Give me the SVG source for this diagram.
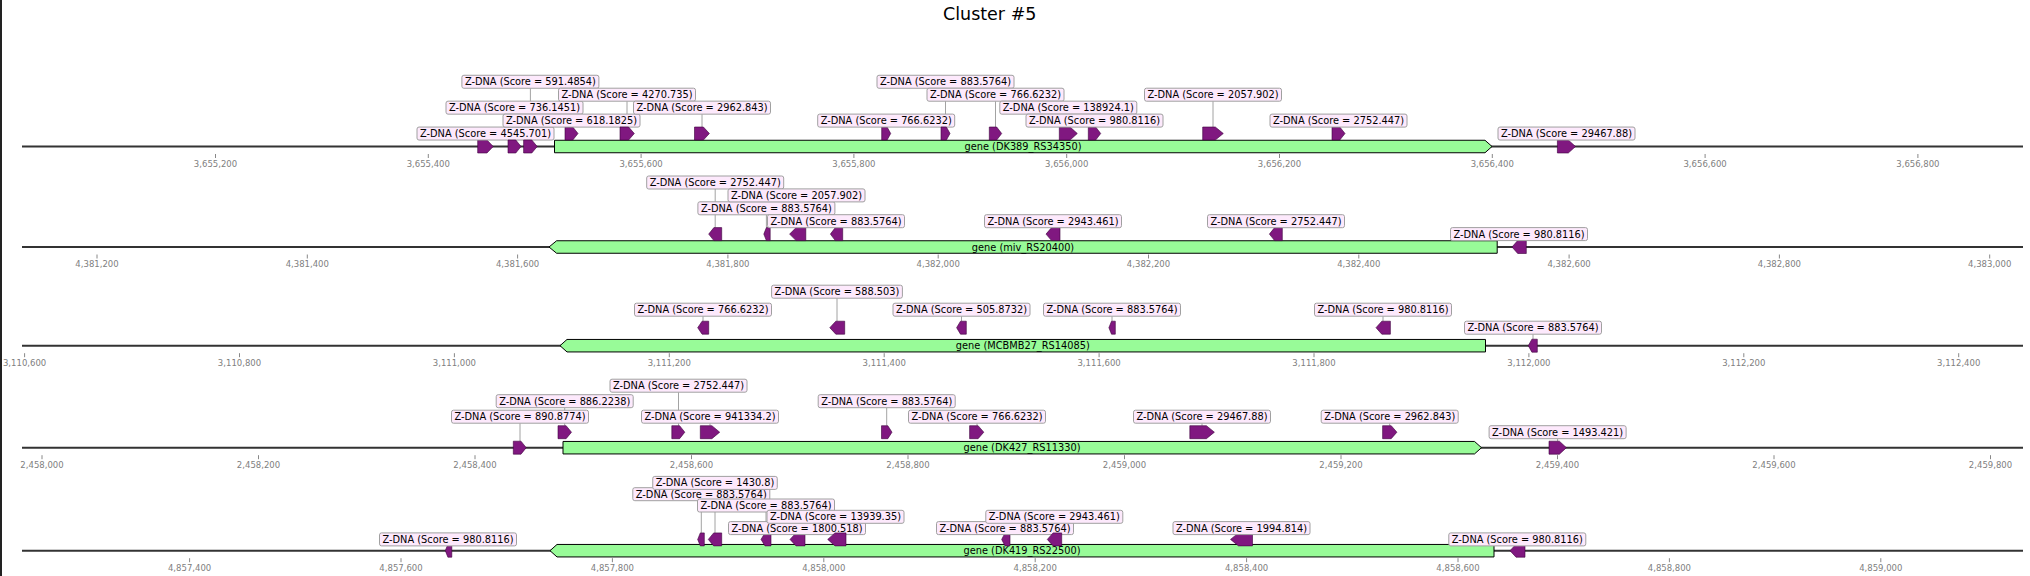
<svg xmlns="http://www.w3.org/2000/svg" width="2030" height="576" viewBox="0 0 2030 576">
<style>
.bg{fill:#ffffff}
.ax{stroke:#333;stroke-width:2}
.tk{stroke:#888;stroke-width:1}
.tl{font-family:"DejaVu Sans",sans-serif;font-size:8.5px;fill:#808080;text-anchor:middle}
.gene{fill:#98fb98;stroke:#000;stroke-width:1}
.gl{font-family:"DejaVu Sans",sans-serif;font-size:9.8px;fill:#000;text-anchor:middle}
.f{fill:#801880;stroke:#3d003d;stroke-width:0.6}
.lb{fill:#fde9fc;stroke:#a0a0a0;stroke-width:1}
.lt{font-family:"DejaVu Sans",sans-serif;font-size:9.8px;fill:#000;text-anchor:middle}
.cn{stroke:#8c8c8c;stroke-width:0.8}
.title{font-family:"DejaVu Sans",sans-serif;font-size:17.5px;fill:#000;text-anchor:middle}
</style>
<rect class="bg" x="0" y="0" width="2030" height="576"/>
<rect x="0" y="0" width="2" height="576" fill="#222"/>
<text class="title" x="989.7" y="19.5">Cluster #5</text>

<g id="axes">
<line class="ax" x1="22" y1="146.5" x2="2023" y2="146.5"/>
<line class="ax" x1="22" y1="247" x2="2023" y2="247"/>
<line class="ax" x1="22" y1="345.7" x2="2023" y2="345.7"/>
<line class="ax" x1="22" y1="447.7" x2="2023" y2="447.7"/>
<line class="ax" x1="22" y1="550.7" x2="2023" y2="550.7"/>
</g>

<g id="ticks">
<g class="tk">
<line x1="215.5" y1="154" x2="215.5" y2="158"/><line x1="428.3" y1="154" x2="428.3" y2="158"/><line x1="641.1" y1="154" x2="641.1" y2="158"/><line x1="853.9" y1="154" x2="853.9" y2="158"/><line x1="1066.7" y1="154" x2="1066.7" y2="158"/><line x1="1279.5" y1="154" x2="1279.5" y2="158"/><line x1="1492.3" y1="154" x2="1492.3" y2="158"/><line x1="1705.1" y1="154" x2="1705.1" y2="158"/><line x1="1917.9" y1="154" x2="1917.9" y2="158"/>
<line x1="97" y1="254.5" x2="97" y2="258.5"/><line x1="307.3" y1="254.5" x2="307.3" y2="258.5"/><line x1="517.6" y1="254.5" x2="517.6" y2="258.5"/><line x1="727.9" y1="254.5" x2="727.9" y2="258.5"/><line x1="938.2" y1="254.5" x2="938.2" y2="258.5"/><line x1="1148.5" y1="254.5" x2="1148.5" y2="258.5"/><line x1="1358.8" y1="254.5" x2="1358.8" y2="258.5"/><line x1="1569.1" y1="254.5" x2="1569.1" y2="258.5"/><line x1="1779.4" y1="254.5" x2="1779.4" y2="258.5"/><line x1="1989.7" y1="254.5" x2="1989.7" y2="258.5"/>
<line x1="24.6" y1="353.2" x2="24.6" y2="357.2"/><line x1="239.5" y1="353.2" x2="239.5" y2="357.2"/><line x1="454.4" y1="353.2" x2="454.4" y2="357.2"/><line x1="669.3" y1="353.2" x2="669.3" y2="357.2"/><line x1="884.2" y1="353.2" x2="884.2" y2="357.2"/><line x1="1099.1" y1="353.2" x2="1099.1" y2="357.2"/><line x1="1314" y1="353.2" x2="1314" y2="357.2"/><line x1="1528.9" y1="353.2" x2="1528.9" y2="357.2"/><line x1="1743.8" y1="353.2" x2="1743.8" y2="357.2"/><line x1="1958.7" y1="353.2" x2="1958.7" y2="357.2"/>
<line x1="42" y1="455.2" x2="42" y2="459.2"/><line x1="258.5" y1="455.2" x2="258.5" y2="459.2"/><line x1="475" y1="455.2" x2="475" y2="459.2"/><line x1="691.5" y1="455.2" x2="691.5" y2="459.2"/><line x1="908" y1="455.2" x2="908" y2="459.2"/><line x1="1124.5" y1="455.2" x2="1124.5" y2="459.2"/><line x1="1341" y1="455.2" x2="1341" y2="459.2"/><line x1="1557.5" y1="455.2" x2="1557.5" y2="459.2"/><line x1="1774" y1="455.2" x2="1774" y2="459.2"/><line x1="1990.5" y1="455.2" x2="1990.5" y2="459.2"/>
<line x1="189.6" y1="558.2" x2="189.6" y2="562.2"/><line x1="401" y1="558.2" x2="401" y2="562.2"/><line x1="612.4" y1="558.2" x2="612.4" y2="562.2"/><line x1="823.8" y1="558.2" x2="823.8" y2="562.2"/><line x1="1035.2" y1="558.2" x2="1035.2" y2="562.2"/><line x1="1246.6" y1="558.2" x2="1246.6" y2="562.2"/><line x1="1458" y1="558.2" x2="1458" y2="562.2"/><line x1="1669.4" y1="558.2" x2="1669.4" y2="562.2"/><line x1="1880.8" y1="558.2" x2="1880.8" y2="562.2"/>
</g>
<g class="tl">
<text x="215.5" y="166.5">3,655,200</text><text x="428.3" y="166.5">3,655,400</text><text x="641.1" y="166.5">3,655,600</text><text x="853.9" y="166.5">3,655,800</text><text x="1066.7" y="166.5">3,656,000</text><text x="1279.5" y="166.5">3,656,200</text><text x="1492.3" y="166.5">3,656,400</text><text x="1705.1" y="166.5">3,656,600</text><text x="1917.9" y="166.5">3,656,800</text>
<text x="97" y="267">4,381,200</text><text x="307.3" y="267">4,381,400</text><text x="517.6" y="267">4,381,600</text><text x="727.9" y="267">4,381,800</text><text x="938.2" y="267">4,382,000</text><text x="1148.5" y="267">4,382,200</text><text x="1358.8" y="267">4,382,400</text><text x="1569.1" y="267">4,382,600</text><text x="1779.4" y="267">4,382,800</text><text x="1989.7" y="267">4,383,000</text>
<text x="24.6" y="365.7">3,110,600</text><text x="239.5" y="365.7">3,110,800</text><text x="454.4" y="365.7">3,111,000</text><text x="669.3" y="365.7">3,111,200</text><text x="884.2" y="365.7">3,111,400</text><text x="1099.1" y="365.7">3,111,600</text><text x="1314" y="365.7">3,111,800</text><text x="1528.9" y="365.7">3,112,000</text><text x="1743.8" y="365.7">3,112,200</text><text x="1958.7" y="365.7">3,112,400</text>
<text x="42" y="467.7">2,458,000</text><text x="258.5" y="467.7">2,458,200</text><text x="475" y="467.7">2,458,400</text><text x="691.5" y="467.7">2,458,600</text><text x="908" y="467.7">2,458,800</text><text x="1124.5" y="467.7">2,459,000</text><text x="1341" y="467.7">2,459,200</text><text x="1557.5" y="467.7">2,459,400</text><text x="1774" y="467.7">2,459,600</text><text x="1990.5" y="467.7">2,459,800</text>
<text x="189.6" y="570.7">4,857,400</text><text x="401" y="570.7">4,857,600</text><text x="612.4" y="570.7">4,857,800</text><text x="823.8" y="570.7">4,858,000</text><text x="1035.2" y="570.7">4,858,200</text><text x="1246.6" y="570.7">4,858,400</text><text x="1458" y="570.7">4,858,600</text><text x="1669.4" y="570.7">4,858,800</text><text x="1880.8" y="570.7">4,859,000</text>
</g>
</g>

<g id="gene-DK389_RS34350"><polygon class="gene" points="554.5,140.25 1485,140.25 1492,146.5 1485,152.75 554.5,152.75"/><text class="gl" x="1023" y="150">gene (DK389_RS34350)</text></g>
<g id="gene-miv_RS20400"><polygon class="gene" points="549,247 556.6,240.75 1497.2,240.75 1497.2,253.25 556.6,253.25"/><text class="gl" x="1023" y="250.5">gene (miv_RS20400)</text></g>
<g id="gene-MCBMB27_RS14085"><polygon class="gene" points="560,345.7 567,339.45 1485.5,339.45 1485.5,351.95 567,351.95"/><text class="gl" x="1022.8" y="349.2">gene (MCBMB27_RS14085)</text></g>
<g id="gene-DK427_RS11330"><polygon class="gene" points="563,441.45 1474.5,441.45 1481.5,447.7 1474.5,453.95 563,453.95"/><text class="gl" x="1022" y="451.2">gene (DK427_RS11330)</text></g>
<g id="gene-DK419_RS22500"><polygon class="gene" points="550,550.7 557,544.45 1494,544.45 1494,556.95 557,556.95"/><text class="gl" x="1022" y="554.2">gene (DK419_RS22500)</text></g>

<g id="connectors" class="cn">
<line x1="514.5" y1="114.1" x2="514.5" y2="140"/>
<line x1="530.4" y1="88.2" x2="530.4" y2="140"/>
<line x1="627" y1="101.2" x2="627" y2="127"/>
<line x1="702" y1="114.1" x2="702" y2="127"/>
<line x1="945.5" y1="88.2" x2="945.5" y2="127"/>
<line x1="995.5" y1="101.2" x2="995.5" y2="127"/>
<line x1="1068.3" y1="114.1" x2="1068.3" y2="127"/>
<line x1="1213" y1="101.2" x2="1213" y2="127"/>
<line x1="715.2" y1="189" x2="715.2" y2="227.6"/>
<line x1="766.4" y1="214.8" x2="766.4" y2="227.6"/>
<line x1="797" y1="201.9" x2="797" y2="227.6"/>
<line x1="703" y1="316.2" x2="703" y2="321.2"/>
<line x1="837" y1="298.2" x2="837" y2="321.2"/>
<line x1="961.5" y1="316.2" x2="961.5" y2="321.2"/>
<line x1="1112" y1="316.2" x2="1112" y2="321.2"/>
<line x1="1383" y1="316.2" x2="1383" y2="321.2"/>
<line x1="1533" y1="334.2" x2="1533" y2="339.2"/>
<line x1="520" y1="423.2" x2="520" y2="441.2"/>
<line x1="564.7" y1="407.7" x2="564.7" y2="425.7"/>
<line x1="678.5" y1="392.2" x2="678.5" y2="425.7"/>
<line x1="710" y1="423.2" x2="710" y2="425.7"/>
<line x1="886.7" y1="407.7" x2="886.7" y2="425.7"/>
<line x1="977" y1="423.2" x2="977" y2="425.7"/>
<line x1="1202" y1="423.2" x2="1202" y2="425.7"/>
<line x1="1389.7" y1="423.2" x2="1389.7" y2="425.7"/>
<line x1="1557.6" y1="438.7" x2="1557.6" y2="441.2"/>
<line x1="701.3" y1="500.7" x2="701.3" y2="532.9"/>
<line x1="715" y1="489.4" x2="715" y2="532.9"/>
<line x1="766" y1="512" x2="766" y2="532.9"/>
<line x1="835.5" y1="523.3" x2="835.5" y2="532.9"/>
<line x1="1054.3" y1="523.3" x2="1054.3" y2="532.9"/>
</g>

<!-- Row 1 -->
<g id="r1f1"><polygon class="f" points="477.7,140 487,140 493.2,146.5 487,153 477.7,153"/><rect class="lb" x="417" y="127.05" width="137" height="13" rx="2"/><text class="lt" x="485.5" y="137.05">Z-DNA (Score = 4545.701)</text></g>
<g id="r1f2"><polygon class="f" points="508,140 515.8,140 521,146.5 515.8,153 508,153"/><rect class="lb" x="446" y="101.15" width="137" height="13" rx="2"/><text class="lt" x="514.5" y="111.15">Z-DNA (Score = 736.1451)</text></g>
<g id="r1f3"><polygon class="f" points="523.6,140 531.8,140 537.2,146.5 531.8,153 523.6,153"/><rect class="lb" x="461.9" y="75.25" width="137" height="13" rx="2"/><text class="lt" x="530.4" y="85.25">Z-DNA (Score = 591.4854)</text></g>
<g id="r1f4"><polygon class="f" points="565,127 572.8,127 578,133.5 572.8,140 565,140"/><rect class="lb" x="503" y="114.1" width="137" height="13" rx="2"/><text class="lt" x="571.5" y="124.1">Z-DNA (Score = 618.1825)</text></g>
<g id="r1f5"><polygon class="f" points="620,127 628.6,127 634.3,133.5 628.6,140 620,140"/><rect class="lb" x="558.5" y="88.2" width="137" height="13" rx="2"/><text class="lt" x="627" y="98.2">Z-DNA (Score = 4270.735)</text></g>
<g id="r1f6"><polygon class="f" points="694.5,127 703.4,127 709.4,133.5 703.4,140 694.5,140"/><rect class="lb" x="633.5" y="101.15" width="137" height="13" rx="2"/><text class="lt" x="702" y="111.15">Z-DNA (Score = 2962.843)</text></g>
<g id="r1f7"><polygon class="f" points="881.7,127 887.1,127 890.7,133.5 887.1,140 881.7,140"/><rect class="lb" x="817.7" y="114.1" width="137" height="13" rx="2"/><text class="lt" x="886.2" y="124.1">Z-DNA (Score = 766.6232)</text></g>
<g id="r1f8"><polygon class="f" points="941,127 946.4,127 950,133.5 946.4,140 941,140"/><rect class="lb" x="877" y="75.25" width="137" height="13" rx="2"/><text class="lt" x="945.5" y="85.25">Z-DNA (Score = 883.5764)</text></g>
<g id="r1f9"><polygon class="f" points="989.3,127 996.7,127 1001.7,133.5 996.7,140 989.3,140"/><rect class="lb" x="927" y="88.2" width="137" height="13" rx="2"/><text class="lt" x="995.5" y="98.2">Z-DNA (Score = 766.6232)</text></g>
<g id="r1f10"><polygon class="f" points="1059.3,127 1070.1,127 1077.3,133.5 1070.1,140 1059.3,140"/><rect class="lb" x="999.8" y="101.15" width="137" height="13" rx="2"/><text class="lt" x="1068.3" y="111.15">Z-DNA (Score = 138924.1)</text></g>
<g id="r1f11"><polygon class="f" points="1088.3,127 1095.7,127 1100.7,133.5 1095.7,140 1088.3,140"/><rect class="lb" x="1026" y="114.1" width="137" height="13" rx="2"/><text class="lt" x="1094.5" y="124.1">Z-DNA (Score = 980.8116)</text></g>
<g id="r1f12"><polygon class="f" points="1202.7,127 1215.3,127 1223.3,133.5 1215.3,140 1202.7,140"/><rect class="lb" x="1144.5" y="88.2" width="137" height="13" rx="2"/><text class="lt" x="1213" y="98.2">Z-DNA (Score = 2057.902)</text></g>
<g id="r1f13"><polygon class="f" points="1332,127 1339.8,127 1345,133.5 1339.8,140 1332,140"/><rect class="lb" x="1270" y="114.1" width="137" height="13" rx="2"/><text class="lt" x="1338.5" y="124.1">Z-DNA (Score = 2752.447)</text></g>
<g id="r1f14"><polygon class="f" points="1557.4,140 1568.3,140 1575.5,146.5 1568.3,153 1557.4,153"/><rect class="lb" x="1498" y="127.05" width="137" height="13" rx="2"/><text class="lt" x="1566.5" y="137.05">Z-DNA (Score = 29467.88)</text></g>

<!-- Row 2 -->
<g id="r2f1"><polygon class="f" points="713.9,227.6 721.7,227.6 721.7,240.6 713.9,240.6 708.7,234.1"/><rect class="lb" x="646.7" y="176" width="137" height="13" rx="2"/><text class="lt" x="715.2" y="186">Z-DNA (Score = 2752.447)</text></g>
<g id="r2f2"><polygon class="f" points="766.4,227.6 770.2,227.6 770.2,240.6 766.4,240.6 763.8,234.1"/><rect class="lb" x="697.9" y="201.8" width="137" height="13" rx="2"/><text class="lt" x="766.4" y="211.8">Z-DNA (Score = 883.5764)</text></g>
<g id="r2f3"><polygon class="f" points="796.1,227.6 805.8,227.6 805.8,240.6 796.1,240.6 789.6,234.1"/><rect class="lb" x="728" y="188.9" width="137" height="13" rx="2"/><text class="lt" x="796.5" y="198.9">Z-DNA (Score = 2057.902)</text></g>
<g id="r2f4"><polygon class="f" points="835.3,227.6 842.7,227.6 842.7,240.6 835.3,240.6 830.4,234.1"/><rect class="lb" x="767.5" y="214.7" width="137" height="13" rx="2"/><text class="lt" x="836" y="224.7">Z-DNA (Score = 883.5764)</text></g>
<g id="r2f5"><polygon class="f" points="1051.6,227.6 1060,227.6 1060,240.6 1051.6,240.6 1046,234.1"/><rect class="lb" x="984.5" y="214.7" width="137" height="13" rx="2"/><text class="lt" x="1053" y="224.7">Z-DNA (Score = 2943.461)</text></g>
<g id="r2f6"><polygon class="f" points="1274.6,227.6 1282.3,227.6 1282.3,240.6 1274.6,240.6 1269.4,234.1"/><rect class="lb" x="1207.5" y="214.7" width="137" height="13" rx="2"/><text class="lt" x="1276" y="224.7">Z-DNA (Score = 2752.447)</text></g>
<g id="r2f7"><polygon class="f" points="1517.7,240.5 1526.3,240.5 1526.3,253.5 1517.7,253.5 1512,247"/><rect class="lb" x="1450.5" y="227.6" width="137" height="13" rx="2"/><text class="lt" x="1519" y="237.6">Z-DNA (Score = 980.8116)</text></g>

<!-- Row 3 -->
<g id="r3f1"><polygon class="f" points="702.1,321.2 708.7,321.2 708.7,334.2 702.1,334.2 697.7,327.7"/><rect class="lb" x="634.5" y="303.2" width="137" height="13" rx="2"/><text class="lt" x="703" y="313.2">Z-DNA (Score = 766.6232)</text></g>
<g id="r3f2"><polygon class="f" points="835.8,321.2 844.7,321.2 844.7,334.2 835.8,334.2 829.8,327.7"/><rect class="lb" x="771.6" y="285.2" width="130.8" height="13" rx="2"/><text class="lt" x="837" y="295.2">Z-DNA (Score = 588.503)</text></g>
<g id="r3f3"><polygon class="f" points="960.5,321.2 966.3,321.2 966.3,334.2 960.5,334.2 956.6,327.7"/><rect class="lb" x="893" y="303.2" width="137" height="13" rx="2"/><text class="lt" x="961.5" y="313.2">Z-DNA (Score = 505.8732)</text></g>
<g id="r3f4"><polygon class="f" points="1111.5,321.2 1115.3,321.2 1115.3,334.2 1111.5,334.2 1108.9,327.7"/><rect class="lb" x="1043.5" y="303.2" width="137" height="13" rx="2"/><text class="lt" x="1112" y="313.2">Z-DNA (Score = 883.5764)</text></g>
<g id="r3f5"><polygon class="f" points="1381.8,321.2 1390.4,321.2 1390.4,334.2 1381.8,334.2 1376,327.7"/><rect class="lb" x="1314.5" y="303.2" width="137" height="13" rx="2"/><text class="lt" x="1383" y="313.2">Z-DNA (Score = 980.8116)</text></g>
<g id="r3f6"><polygon class="f" points="1531.9,339.2 1537.3,339.2 1537.3,352.2 1531.9,352.2 1528.3,345.7"/><rect class="lb" x="1464.5" y="321.2" width="137" height="13" rx="2"/><text class="lt" x="1533" y="331.2">Z-DNA (Score = 883.5764)</text></g>

<!-- Row 4 -->
<g id="r4f1"><polygon class="f" points="513.3,441.2 521,441.2 526.2,447.7 521,454.2 513.3,454.2"/><rect class="lb" x="451.5" y="410.2" width="137" height="13" rx="2"/><text class="lt" x="520" y="420.2">Z-DNA (Score = 890.8774)</text></g>
<g id="r4f2"><polygon class="f" points="558,425.7 566.1,425.7 571.5,432.2 566.1,438.7 558,438.7"/><rect class="lb" x="496.2" y="394.7" width="137" height="13" rx="2"/><text class="lt" x="564.7" y="404.7">Z-DNA (Score = 886.2238)</text></g>
<g id="r4f3"><polygon class="f" points="671.8,425.7 679.6,425.7 684.8,432.2 679.6,438.7 671.8,438.7"/><rect class="lb" x="610" y="379.2" width="137" height="13" rx="2"/><text class="lt" x="678.5" y="389.2">Z-DNA (Score = 2752.447)</text></g>
<g id="r4f4"><polygon class="f" points="700.3,425.7 711.9,425.7 719.7,432.2 711.9,438.7 700.3,438.7"/><rect class="lb" x="641.5" y="410.2" width="137" height="13" rx="2"/><text class="lt" x="710" y="420.2">Z-DNA (Score = 941334.2)</text></g>
<g id="r4f5"><polygon class="f" points="881.5,425.7 887.8,425.7 892,432.2 887.8,438.7 881.5,438.7"/><rect class="lb" x="818.2" y="394.7" width="137" height="13" rx="2"/><text class="lt" x="886.7" y="404.7">Z-DNA (Score = 883.5764)</text></g>
<g id="r4f6"><polygon class="f" points="969.6,425.7 978.1,425.7 983.8,432.2 978.1,438.7 969.6,438.7"/><rect class="lb" x="908.5" y="410.2" width="137" height="13" rx="2"/><text class="lt" x="977" y="420.2">Z-DNA (Score = 766.6232)</text></g>
<g id="r4f7"><polygon class="f" points="1189.8,425.7 1206.4,425.7 1214.4,432.2 1206.4,438.7 1189.8,438.7"/><rect class="lb" x="1133.5" y="410.2" width="137" height="13" rx="2"/><text class="lt" x="1202" y="420.2">Z-DNA (Score = 29467.88)</text></g>
<g id="r4f8"><polygon class="f" points="1382.6,425.7 1391.2,425.7 1396.9,432.2 1391.2,438.7 1382.6,438.7"/><rect class="lb" x="1321.2" y="410.2" width="137" height="13" rx="2"/><text class="lt" x="1389.7" y="420.2">Z-DNA (Score = 2962.843)</text></g>
<g id="r4f9"><polygon class="f" points="1549,441.2 1559.4,441.2 1566.4,447.7 1559.4,454.2 1549,454.2"/><rect class="lb" x="1489.1" y="425.7" width="137" height="13" rx="2"/><text class="lt" x="1557.6" y="435.7">Z-DNA (Score = 1493.421)</text></g>

<!-- Row 5 -->
<g id="r5f1"><polygon class="f" points="447.9,544.2 451.8,544.2 451.8,557.2 447.9,557.2 445.3,550.7"/><rect class="lb" x="379.5" y="532.9" width="137" height="13" rx="2"/><text class="lt" x="448" y="542.9">Z-DNA (Score = 980.8116)</text></g>
<g id="r5f2"><polygon class="f" points="700.3,532.9 704.3,532.9 704.3,545.9 700.3,545.9 697.7,539.4"/><rect class="lb" x="632.8" y="487.7" width="137" height="13" rx="2"/><text class="lt" x="701.3" y="497.7">Z-DNA (Score = 883.5764)</text></g>
<g id="r5f3"><polygon class="f" points="713.7,532.9 721.7,532.9 721.7,545.9 713.7,545.9 708.3,539.4"/><rect class="lb" x="652.75" y="476.4" width="124.5" height="13" rx="2"/><text class="lt" x="715" y="486.4">Z-DNA (Score = 1430.8)</text></g>
<g id="r5f4"><polygon class="f" points="765,532.9 771,532.9 771,545.9 765,545.9 761,539.4"/><rect class="lb" x="697.5" y="499" width="137" height="13" rx="2"/><text class="lt" x="766" y="509">Z-DNA (Score = 883.5764)</text></g>
<g id="r5f5"><polygon class="f" points="796,532.9 805,532.9 805,545.9 796,545.9 790,539.4"/><rect class="lb" x="728.5" y="521.6" width="137" height="13" rx="2"/><text class="lt" x="797" y="531.6">Z-DNA (Score = 1800.518)</text></g>
<g id="r5f6"><polygon class="f" points="835,532.9 846,532.9 846,545.9 835,545.9 827.7,539.4"/><rect class="lb" x="767" y="510.3" width="137" height="13" rx="2"/><text class="lt" x="835.5" y="520.3">Z-DNA (Score = 13939.35)</text></g>
<g id="r5f7"><polygon class="f" points="1005,532.9 1010,532.9 1010,545.9 1005,545.9 1001.7,539.4"/><rect class="lb" x="936.5" y="521.6" width="137" height="13" rx="2"/><text class="lt" x="1005" y="531.6">Z-DNA (Score = 883.5764)</text></g>
<g id="r5f8"><polygon class="f" points="1053.1,532.9 1061.7,532.9 1061.7,545.9 1053.1,545.9 1047.3,539.4"/><rect class="lb" x="985.8" y="510.3" width="137" height="13" rx="2"/><text class="lt" x="1054.3" y="520.3">Z-DNA (Score = 2943.461)</text></g>
<g id="r5f9"><polygon class="f" points="1238.5,532.9 1252.5,532.9 1252.5,545.9 1238.5,545.9 1230.5,539.4"/><rect class="lb" x="1173" y="521.6" width="137" height="13" rx="2"/><text class="lt" x="1241.5" y="531.6">Z-DNA (Score = 1994.814)</text></g>
<g id="r5f10"><polygon class="f" points="1516,544.2 1525,544.2 1525,557.2 1516,557.2 1510,550.7"/><rect class="lb" x="1448.8" y="532.9" width="137" height="13" rx="2"/><text class="lt" x="1517.3" y="542.9">Z-DNA (Score = 980.8116)</text></g>
</svg>
